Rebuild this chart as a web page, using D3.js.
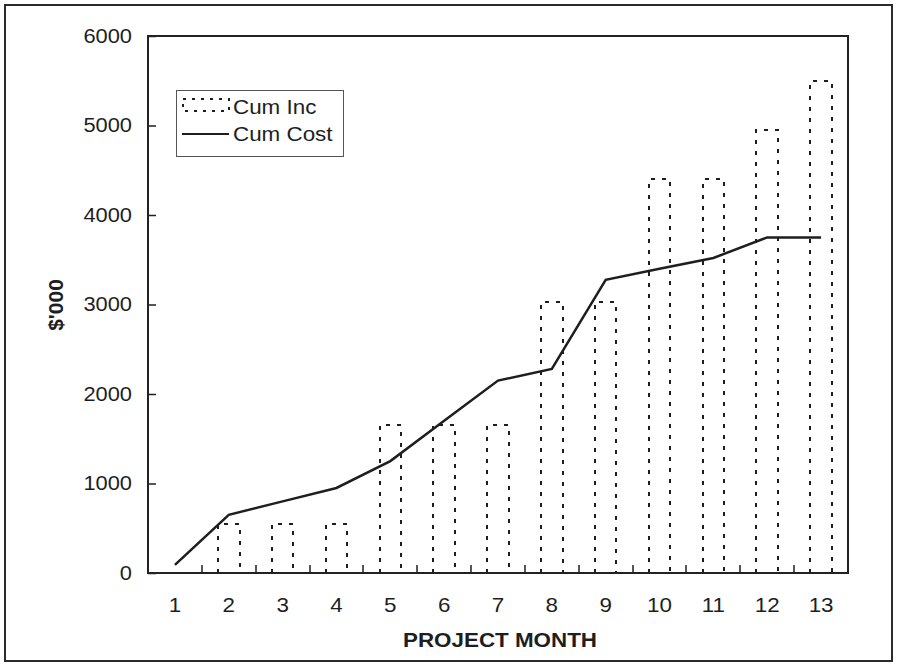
<!DOCTYPE html>
<html>
<head>
<meta charset="utf-8">
<script src="https://cdn.jsdelivr.net/npm/d3@7"></script>
<style>
  html, body { margin: 0; padding: 0; background: #fff; }
  svg { display: block; font-family: "Liberation Sans", Arial, sans-serif; }
  .sx { transform-box: fill-box; transform: scaleX(1.12); }
</style>
</head>
<body>
<svg id="chart" width="897" height="666"></svg>
<script>
// ---- data ----
const months = ["1","2","3","4","5","6","7","8","9","10","11","12","13"];
const cumInc  = [0, 550, 550, 550, 1650, 1650, 1650, 3025, 3025, 4400, 4400, 4950, 5500];
const cumCost = [90, 650, 800, 950, 1250, 1700, 2150, 2280, 3275, 3400, 3520, 3750, 3750];
const yTicks = [0, 1000, 2000, 3000, 4000, 5000, 6000];
const seriesNames = ["Cum Inc", "Cum Cost"];
const xTitle = "PROJECT MONTH";
const yTitle = "$'000";

// ---- layout ----
const W = 897, H = 666;
const plot = { left: 148, right: 848, top: 36, bottom: 573 };
const ink = "#1e1e1e";

const svg = d3.select("#chart");

// outer frame
svg.append("rect").attr("x", 5).attr("y", 5).attr("width", W - 10).attr("height", H - 10)
  .attr("fill", "#fff").attr("stroke", "#2a2a2a").attr("stroke-width", 2);

const x = d3.scaleBand().domain(months).range([plot.left, plot.right]).paddingInner(0).paddingOuter(0);
const y = d3.scaleLinear().domain([0, 6000]).range([plot.bottom, plot.top]);

// bars (dashed outlines, open at bottom)
const bw = x.bandwidth() * 0.4;
svg.append("g").selectAll("path.bar").data(months.map((m, i) => ({ m, v: cumInc[i] })))
  .join("path")
  .attr("class", "bar")
  .attr("d", d => {
    const cx = x(d.m) + x.bandwidth() / 2;
    const x0 = Math.round(cx - bw / 2), x1 = Math.round(cx + bw / 2);
    const yt = Math.round(y(d.v));
    return d.v > 0 ? `M${x0},${y(0)}V${yt}H${x1}V${y(0)}` : "";
  })
  .attr("fill", "none").attr("stroke", ink).attr("stroke-width", 2)
  .attr("stroke-dasharray", "4,7");

// line
const line = d3.line()
  .x((d, i) => x(months[i]) + x.bandwidth() / 2)
  .y(d => y(d));
svg.append("path").datum(cumCost).attr("d", line)
  .attr("fill", "none").attr("stroke", ink).attr("stroke-width", 2.5).attr("stroke-linejoin", "miter");

// y axis
const yAxis = svg.append("g").attr("transform", `translate(${plot.left},0)`)
  .call(d3.axisLeft(y).tickValues(yTicks).tickFormat(d3.format("d")).tickSizeInner(-8).tickSizeOuter(0).tickPadding(16));
yAxis.select(".domain").remove();
yAxis.selectAll("line").attr("stroke", ink).attr("stroke-width", 1.5);
yAxis.selectAll("text").attr("font-size", 19.5).attr("fill", ink)
  .attr("font-family", "Liberation Sans, Arial, sans-serif")
  .classed("sx", true).style("transform-origin", "right center");

// x axis labels
const xAxis = svg.append("g").attr("transform", `translate(0,${plot.bottom})`)
  .call(d3.axisBottom(x).tickSize(0).tickPadding(25));
xAxis.select(".domain").remove();
xAxis.selectAll("text").attr("font-size", 20).attr("fill", ink)
  .attr("font-family", "Liberation Sans, Arial, sans-serif")
  .classed("sx", true).style("transform-origin", "center");

// x boundary ticks (inward)
svg.append("g").selectAll("line").data(months.slice(1)).join("line")
  .attr("x1", d => Math.round(x(d))).attr("x2", d => Math.round(x(d)))
  .attr("y1", plot.bottom).attr("y2", plot.bottom - 8)
  .attr("stroke", ink).attr("stroke-width", 1.5);

// plot frame
svg.append("rect").attr("x", plot.left).attr("y", plot.top)
  .attr("width", plot.right - plot.left).attr("height", plot.bottom - plot.top)
  .attr("fill", "none").attr("stroke", "#222").attr("stroke-width", 2);

// axis titles
svg.append("text").attr("x", 500).attr("y", 647).attr("text-anchor", "middle")
  .attr("font-size", 20).attr("font-weight", "bold").attr("fill", ink)
  .classed("sx", true).style("transform-origin", "center")
  .text(xTitle);
svg.append("text").attr("transform", "translate(63,305) rotate(-90)").attr("text-anchor", "middle")
  .attr("font-size", 21).attr("font-weight", "bold").attr("fill", ink)
  .text(yTitle);

// legend
const lg = svg.append("g");
lg.append("rect").attr("x", 176.5).attr("y", 90.5).attr("width", 167).attr("height", 66)
  .attr("fill", "#fff").attr("stroke", "#555").attr("stroke-width", 1);
lg.append("rect").attr("x", 183).attr("y", 99).attr("width", 46).attr("height", 12)
  .attr("fill", "none").attr("stroke", ink).attr("stroke-width", 2).attr("stroke-dasharray", "3,6");
lg.append("line").attr("x1", 182).attr("x2", 229).attr("y1", 134).attr("y2", 134)
  .attr("stroke", ink).attr("stroke-width", 2);
lg.selectAll("text.lt").data(seriesNames).join("text").attr("class", "lt sx")
  .attr("x", 233).attr("y", (d, i) => 114 + i * 27)
  .attr("font-size", 20).attr("fill", ink)
  .style("transform-origin", "left center")
  .text(d => d);
</script>
</body>
</html>
